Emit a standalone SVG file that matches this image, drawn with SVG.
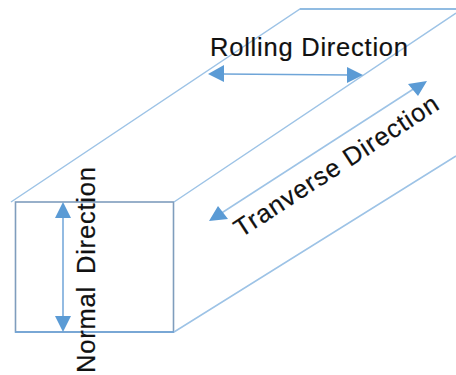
<svg xmlns="http://www.w3.org/2000/svg" width="456" height="375" viewBox="0 0 456 375">
<style>
.edge{fill:none;stroke:#9dc3e6;stroke-width:1.5}
.front{fill:none;stroke:#7f9dbd;stroke-width:1.6}
.arrow{fill:none;stroke:#6fa5d8;stroke-width:1.5}
.head{fill:#5b9bd5}
text{font-family:"Liberation Sans",Arial,sans-serif;font-size:25.5px;fill:#111;stroke:#111;stroke-width:.2}
</style>
<rect width="456" height="375" fill="#fff"/>
<g id="block">
<rect class="front" x="15.5" y="202" width="158" height="130"/>
<path class="edge" d="M11 202L300 9H456M174 202L456 13M174 332L456 156"/>
<path d="M15 332H174" fill="none" stroke="#6fa5d8" stroke-width="1.5"/>
<path d="M300 9H456" fill="none" stroke="#6fa5d8" stroke-width="1.2"/>
</g>
<g id="connectors">
<path class="arrow" d="M63 216V318"/>
<path class="head" d="M63 202L71 218H55ZM63 332L55 316H71Z"/>
<path class="arrow" d="M222 74L350 75"/>
<path class="head" d="M208 74L224 65V82ZM363 75L347 67V83Z"/>
<path class="edge" d="M220 214L415 88"/>
<path class="head" d="M427 81L418 96L408 84ZM209 221L218 206L228 219Z"/>
</g>
<g id="labels">
<text x="210" y="56" textLength="198" lengthAdjust="spacing">Rolling Direction</text>
<text transform="translate(95 373) rotate(-90)" textLength="206" lengthAdjust="spacing" style="word-spacing:4px">Normal Direction</text>
<text transform="translate(241 238) rotate(-33)" textLength="238" lengthAdjust="spacing">Tranverse Direction</text>
</g>
</svg>
